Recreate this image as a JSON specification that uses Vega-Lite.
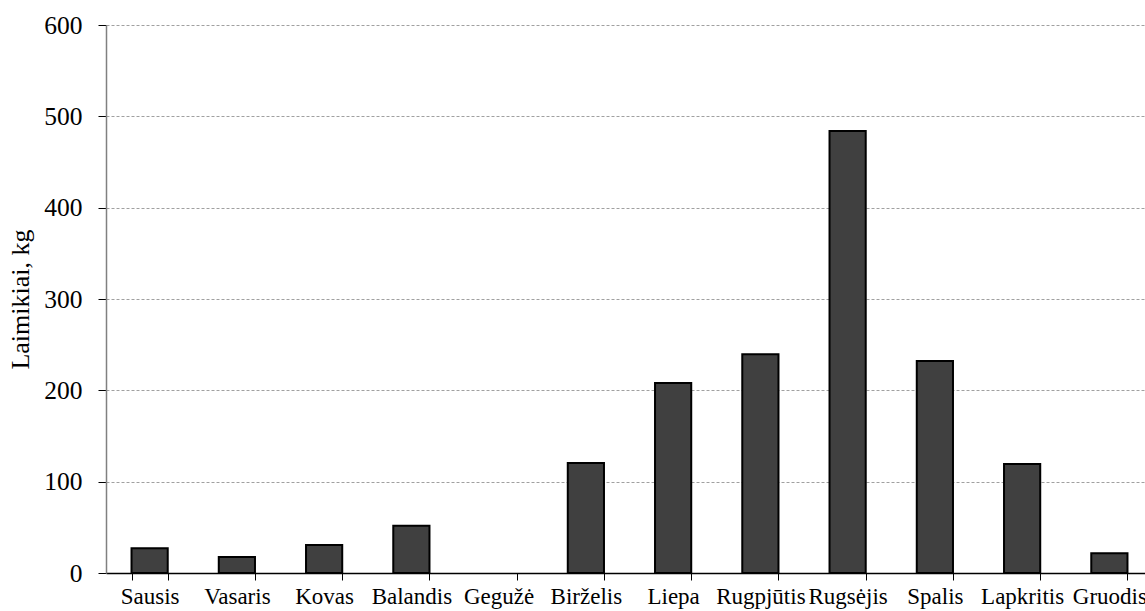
{
  "$schema": "https://vega.github.io/schema/vega-lite/v6.json",
  "autosize": "none",
  "width": 1047,
  "height": 548,
  "padding": {"left": 106, "top": 25, "right": 0, "bottom": 38},
  "background": "white",
  "config": {
    "view": {"stroke": null},
    "font": "Liberation Serif"
  },
  "data": {
    "values": [
      {"menuo": "Sausis", "kg": 27},
      {"menuo": "Vasaris", "kg": 17.5},
      {"menuo": "Kovas", "kg": 30.6},
      {"menuo": "Balandis", "kg": 51.8},
      {"menuo": "Gegužė", "kg": 0},
      {"menuo": "Birželis", "kg": 120.4},
      {"menuo": "Liepa", "kg": 208},
      {"menuo": "Rugpjūtis", "kg": 239.6},
      {"menuo": "Rugsėjis", "kg": 484},
      {"menuo": "Spalis", "kg": 232},
      {"menuo": "Lapkritis", "kg": 119.3},
      {"menuo": "Gruodis", "kg": 21.5}
    ]
  },
  "mark": {"type": "bar", "fill": "#404040", "stroke": "black", "strokeWidth": 2},
  "encoding": {
    "opacity": {"condition": {"test": "datum.kg > 0", "value": 1}, "value": 0},
    "x": {
      "field": "menuo",
      "type": "nominal",
      "sort": null,
      "scale": {"paddingInner": 0.585, "paddingOuter": 0.2925},
      "axis": {
        "title": null,
        "labelAngle": 0,
        "labelFont": "Liberation Serif",
        "labelFontSize": 23,
        "labelColor": "black",
        "labelPadding": 5,
        "labelOverlap": false,
        "tickBand": "extent",
        "tickColor": "black",
        "tickSize": 7,
        "domainColor": "black",
        "domainWidth": 1.5,
        "grid": false
      }
    },
    "y": {
      "field": "kg",
      "type": "quantitative",
      "scale": {"domain": [0, 600], "nice": false},
      "axis": {
        "title": "Laimikiai, kg",
        "titleFont": "Liberation Serif",
        "titleFontSize": 26,
        "titleFontWeight": "normal",
        "titleColor": "black",
        "titlePadding": 10,
        "values": [0, 100, 200, 300, 400, 500, 600],
        "labelFont": "Liberation Serif",
        "labelFontSize": 25.5,
        "labelColor": "black",
        "labelPadding": 16,
        "tickColor": "black",
        "tickSize": 8,
        "domainColor": "#808080",
        "domainWidth": 1.5,
        "grid": true,
        "gridColor": "#a0a0a0",
        "gridDash": [3, 2],
        "gridWidth": 1
      }
    }
  }
}
